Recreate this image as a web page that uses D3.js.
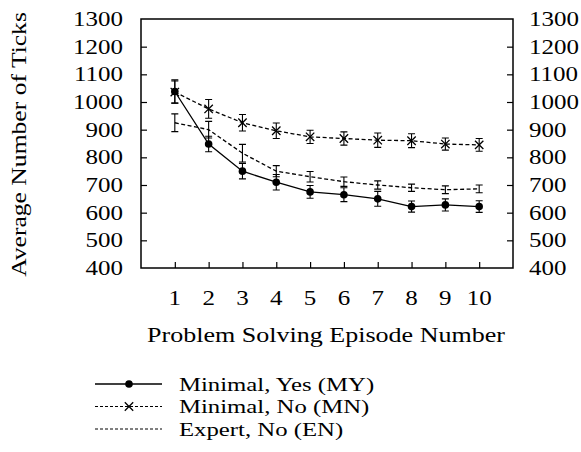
<!DOCTYPE html>
<html><head><meta charset="utf-8">
<script src="https://cdn.jsdelivr.net/npm/d3@7"></script>
<style>body{margin:0;background:#fff}svg{display:block}text{font-family:"Liberation Serif","Times New Roman",serif;fill:#000}</style>
</head><body><svg id="c" width="581" height="452"></svg>
<script>
const episodes = [1,2,3,4,5,6,7,8,9,10];
const myMean = [1038, 848, 750, 710, 675, 665, 650, 622, 628, 622];
const myErr  = [42, 28, 28, 28, 23, 25, 27, 20, 22, 21];
const mnMean = [1036, 975, 925, 896, 874, 868, 862, 860, 848, 845];
const mnErr  = [40, 34, 30, 28, 24, 24, 26, 25, 22, 23];
const enMean = [925, 900, 815, 750, 730, 712, 700, 690, 683, 686];
const enErr  = [32, 30, 32, 20, 19, 17, 15, 13, 14, 14];
const yTicks = [400,500,600,700,800,900,1000,1100,1200,1300];
const labels = ["Minimal, Yes (MY)", "Minimal, No (MN)", "Expert, No (EN)"];

const svg = d3.select("#c");
const L=141, R=513, T=19, B=268;
const x = d3.scaleLinear().domain([0,11]).range([L,R]);
const y = d3.scaleLinear().domain([400,1300]).range([B,T]);
const FS = 21, SX = 1.19;

function txt(g, str, tx, ty, anchor, rot, sx, fs){
  return g.append("text")
    .attr("transform",`translate(${tx},${ty})${rot?` rotate(${rot})`:""} scale(${sx||SX},1)`)
    .attr("text-anchor",anchor).attr("dy","0.34em").attr("font-size",fs||FS).text(str);
}

// axes with inward ticks
const gL = svg.append("g").attr("transform",`translate(${L},0)`)
  .call(d3.axisRight(y).tickValues(yTicks.slice(1,-1)).tickSize(6).tickFormat(""));
const gR = svg.append("g").attr("transform",`translate(${R},0)`)
  .call(d3.axisLeft(y).tickValues(yTicks.slice(1,-1)).tickSize(6).tickFormat(""));
const gB = svg.append("g").attr("transform",`translate(0,${B})`)
  .call(d3.axisTop(x).tickValues(episodes).tickSize(6).tickFormat(""));
[gL,gR,gB].forEach(g=>{g.select(".domain").remove(); g.selectAll("line").attr("stroke","#000").attr("stroke-width",1.2);});
svg.append("rect").attr("x",L).attr("y",T).attr("width",R-L).attr("height",B-T)
  .attr("fill","none").attr("stroke","#000").attr("stroke-width",1.5);

// tick labels
const gt = svg.append("g");
yTicks.forEach(d=>{
  txt(gt, d, 123, y(d), "end");
  txt(gt, d, 529, y(d), "start");
});
episodes.forEach(d=>txt(gt, d, x(d), 298, "middle"));

txt(svg, "Problem Solving Episode Number", (L+R)/2-1, 335, "middle", 0, 1.24);
txt(svg, "Average Number of Ticks", 19, (T+B)/2+1, "middle", -90, 1.22);

const series = [
  {mean: myMean, err: myErr, dash: null, marker: "circle"},
  {mean: mnMean, err: mnErr, dash: "4,2.5", marker: "cross"},
  {mean: enMean, err: enErr, dash: "4,2.5", marker: null}
];
const line = d3.line().x((d,i)=>x(episodes[i])).y(d=>y(d));

function drawMarker(g, type, cx, cy){
  if(type==="circle"){
    g.append("circle").attr("cx",cx).attr("cy",cy).attr("r",3.8).attr("fill","#000");
  } else if(type==="cross"){
    const s=4.2;
    g.append("path").attr("d",`M${cx-s},${cy-s}L${cx+s},${cy+s}M${cx-s},${cy+s}L${cx+s},${cy-s}`)
      .attr("stroke","#000").attr("stroke-width",1.3);
  }
}

series.slice().reverse().forEach(s=>{
  const g = svg.append("g");
  g.append("path").attr("d",line(s.mean)).attr("fill","none").attr("stroke","#000")
    .attr("stroke-width",1.3).attr("stroke-dasharray",s.dash);
  s.mean.forEach((m,i)=>{
    const cx=x(episodes[i]), y0=y(m-s.err[i]), y1=y(m+s.err[i]);
    g.append("path").attr("d",`M${cx},${y0}L${cx},${y1}M${cx-3.5},${y0}L${cx+3.5},${y0}M${cx-3.5},${y1}L${cx+3.5},${y1}`)
      .attr("stroke","#000").attr("stroke-width",1.1).attr("fill","none");
    drawMarker(g,s.marker,cx,y(m));
  });
});

// legend
const legY = [384, 406.5, 429];
series.forEach((s,i)=>{
  const g = svg.append("g");
  g.append("line").attr("x1",95).attr("x2",162).attr("y1",legY[i]).attr("y2",legY[i])
    .attr("stroke","#000").attr("stroke-width",s.dash?1:1.3).attr("stroke-dasharray",s.dash?"3,2":null);
  drawMarker(g,s.marker,129,legY[i]);
  txt(g, labels[i], 179, legY[i], "start", 0, 1.27, 19.5);
});
</script></body></html>
